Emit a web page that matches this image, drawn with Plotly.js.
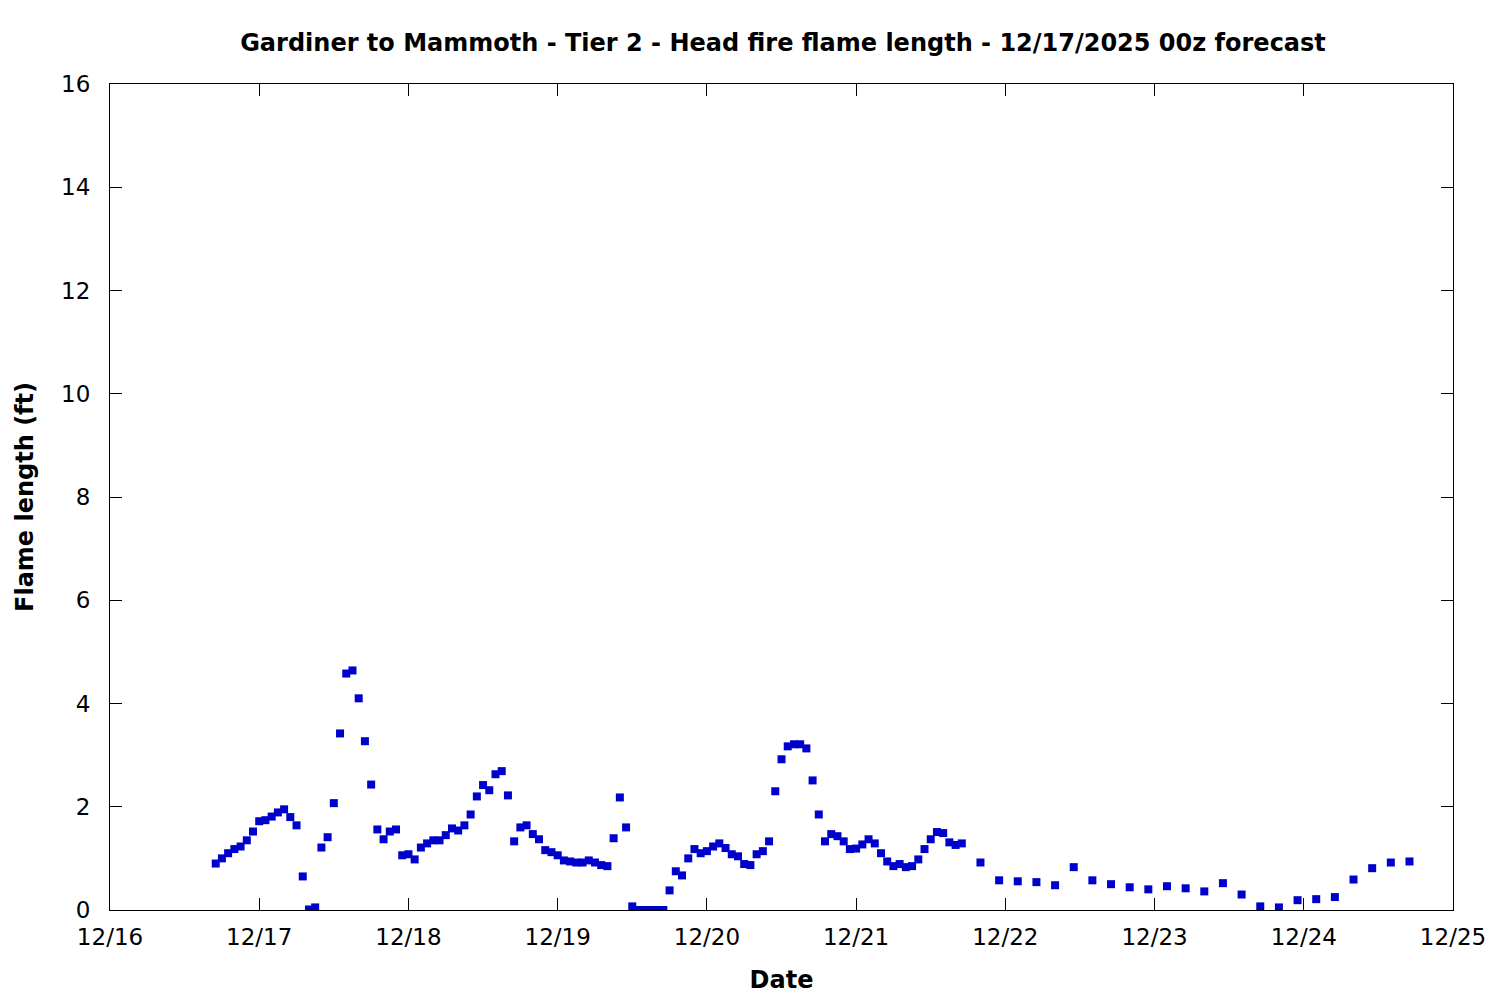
<!DOCTYPE html>
<html>
<head>
<meta charset="utf-8">
<script src="https://cdn.plot.ly/plotly-3.0.1.min.js"></script>
<style>html,body{margin:0;padding:0;background:#fff;}#chart{width:1500px;height:1000px;}</style>
</head>
<body>
<div id="chart"></div>
<script>
// Hourly forecast times (12/16 17z .. 12/21 17z)
const hourlyTimes = [
'2025-12-16 17:00','2025-12-16 18:00','2025-12-16 19:00','2025-12-16 20:00','2025-12-16 21:00','2025-12-16 22:00','2025-12-16 23:00',
'2025-12-17 00:00','2025-12-17 01:00','2025-12-17 02:00','2025-12-17 03:00','2025-12-17 04:00','2025-12-17 05:00','2025-12-17 06:00','2025-12-17 07:00',
'2025-12-17 08:00','2025-12-17 09:00','2025-12-17 10:00','2025-12-17 11:00','2025-12-17 12:00','2025-12-17 13:00','2025-12-17 14:00','2025-12-17 15:00',
'2025-12-17 16:00','2025-12-17 17:00','2025-12-17 18:00','2025-12-17 19:00','2025-12-17 20:00','2025-12-17 21:00','2025-12-17 22:00','2025-12-17 23:00',
'2025-12-18 00:00','2025-12-18 01:00','2025-12-18 02:00','2025-12-18 03:00','2025-12-18 04:00','2025-12-18 05:00','2025-12-18 06:00','2025-12-18 07:00',
'2025-12-18 08:00','2025-12-18 09:00','2025-12-18 10:00','2025-12-18 11:00','2025-12-18 12:00','2025-12-18 13:00','2025-12-18 14:00','2025-12-18 15:00',
'2025-12-18 16:00','2025-12-18 17:00','2025-12-18 18:00','2025-12-18 19:00','2025-12-18 20:00','2025-12-18 21:00','2025-12-18 22:00','2025-12-18 23:00',
'2025-12-19 00:00','2025-12-19 01:00','2025-12-19 02:00','2025-12-19 03:00','2025-12-19 04:00','2025-12-19 05:00','2025-12-19 06:00','2025-12-19 07:00',
'2025-12-19 08:00','2025-12-19 09:00','2025-12-19 10:00','2025-12-19 11:00','2025-12-19 12:00','2025-12-19 13:00','2025-12-19 14:00','2025-12-19 15:00',
'2025-12-19 16:00','2025-12-19 17:00','2025-12-19 18:00','2025-12-19 19:00','2025-12-19 20:00','2025-12-19 21:00','2025-12-19 22:00','2025-12-19 23:00',
'2025-12-20 00:00','2025-12-20 01:00','2025-12-20 02:00','2025-12-20 03:00','2025-12-20 04:00','2025-12-20 05:00','2025-12-20 06:00','2025-12-20 07:00',
'2025-12-20 08:00','2025-12-20 09:00','2025-12-20 10:00','2025-12-20 11:00','2025-12-20 12:00','2025-12-20 13:00','2025-12-20 14:00','2025-12-20 15:00',
'2025-12-20 16:00','2025-12-20 17:00','2025-12-20 18:00','2025-12-20 19:00','2025-12-20 20:00','2025-12-20 21:00','2025-12-20 22:00','2025-12-20 23:00',
'2025-12-21 00:00','2025-12-21 01:00','2025-12-21 02:00','2025-12-21 03:00','2025-12-21 04:00','2025-12-21 05:00','2025-12-21 06:00','2025-12-21 07:00',
'2025-12-21 08:00','2025-12-21 09:00','2025-12-21 10:00','2025-12-21 11:00','2025-12-21 12:00','2025-12-21 13:00','2025-12-21 14:00','2025-12-21 15:00',
'2025-12-21 16:00','2025-12-21 17:00'
];
const hourlyFlame = [
0.90,1.00,1.10,1.18,1.23,1.35,1.52,
1.72,1.74,1.81,1.89,1.95,1.80,1.64,0.65,0.01,0.05,1.21,1.41,2.07,3.42,4.58,4.64,4.10,3.27,2.43,1.56,1.37,1.52,1.56,1.06,
1.08,0.98,1.21,1.29,1.35,1.35,1.45,1.58,1.54,1.64,1.85,2.20,2.42,2.32,2.63,2.69,2.22,1.33,1.60,1.64,1.47,1.37,1.16,1.12,
1.06,0.96,0.94,0.92,0.92,0.96,0.92,0.87,0.85,1.39,2.18,1.60,0.07,0,0,0,0,0,0.38,0.75,0.67,1.00,1.18,1.10,
1.14,1.23,1.29,1.20,1.08,1.04,0.89,0.87,1.08,1.14,1.33,2.30,2.92,3.17,3.21,3.21,3.13,2.51,1.85,1.33,1.47,1.43,1.33,1.18,
1.19,1.27,1.37,1.29,1.10,0.94,0.85,0.89,0.83,0.85,0.98,1.18,1.37,1.51,1.49,1.31,1.26,1.29
];
// 3-hourly forecast times (12/21 20z .. 12/24 17z)
const threeHourlyTimes = [
'2025-12-21 20:00','2025-12-21 23:00',
'2025-12-22 02:00','2025-12-22 05:00','2025-12-22 08:00','2025-12-22 11:00','2025-12-22 14:00','2025-12-22 17:00','2025-12-22 20:00','2025-12-22 23:00',
'2025-12-23 02:00','2025-12-23 05:00','2025-12-23 08:00','2025-12-23 11:00','2025-12-23 14:00','2025-12-23 17:00','2025-12-23 20:00','2025-12-23 23:00',
'2025-12-24 02:00','2025-12-24 05:00','2025-12-24 08:00','2025-12-24 11:00','2025-12-24 14:00','2025-12-24 17:00'
];
const threeHourlyFlame = [
0.92,0.575,
0.556,0.54,0.48,0.83,0.575,0.50,0.44,0.40,
0.46,0.42,0.36,0.52,0.30,0.07,0.05,0.19,
0.21,0.25,0.59,0.81,0.92,0.94
];
const xTickVals = ['2025-12-16','2025-12-17','2025-12-18','2025-12-19','2025-12-20','2025-12-21','2025-12-22','2025-12-23','2025-12-24','2025-12-25'];
const xTickText = ['12/16','12/17','12/18','12/19','12/20','12/21','12/22','12/23','12/24','12/25'];
const yTickVals = [0,2,4,6,8,10,12,14,16];

const FONT = 'DejaVu Sans, sans-serif';
const trace = {
  x: hourlyTimes.concat(threeHourlyTimes),
  y: hourlyFlame.concat(threeHourlyFlame),
  type: 'scatter',
  mode: 'markers',
  marker: {symbol: 'square', size: 8, color: 'rgb(0,0,204)', line: {width: 0}},
  hoverinfo: 'x+y',
  showlegend: false
};
const axisCommon = {
  showgrid: false, zeroline: false, showline: true, linecolor: '#000', linewidth: 1,
  mirror: 'allticks', ticks: 'inside', ticklen: 12, tickwidth: 1, tickcolor: '#000',
  tickfont: {family: FONT, size: 23, color: '#000'}
};
const layout = {
  width: 1500, height: 1000,
  paper_bgcolor: '#fff', plot_bgcolor: '#fff',
  margin: {l: 110, r: 47, t: 84, b: 90},
  title: {
    text: '<b>Gardiner to Mammoth - Tier 2 - Head fire flame length - 12/17/2025 00z forecast</b>',
    font: {family: FONT, size: 24, color: '#000'},
    x: 0.522, xanchor: 'center', y: 0.957, yanchor: 'middle'
  },
  xaxis: Object.assign({}, axisCommon, {
    type: 'date', range: ['2025-12-16', '2025-12-25'],
    tickmode: 'array', tickvals: xTickVals, ticktext: xTickText,
    ticklabelstandoff: 6,
    title: {text: '<b>Date</b>', font: {family: FONT, size: 24, color: '#000'}, standoff: 22}
  }),
  yaxis: Object.assign({}, axisCommon, {
    range: [0, 16], tickmode: 'array', tickvals: yTickVals,
    ticklabelstandoff: 14,
    title: {text: '<b>Flame length (ft)</b>', font: {family: FONT, size: 24, color: '#000'}, standoff: 20}
  })
};
Plotly.newPlot('chart', [trace], layout, {displayModeBar: false, staticPlot: true});
</script>
</body>
</html>
